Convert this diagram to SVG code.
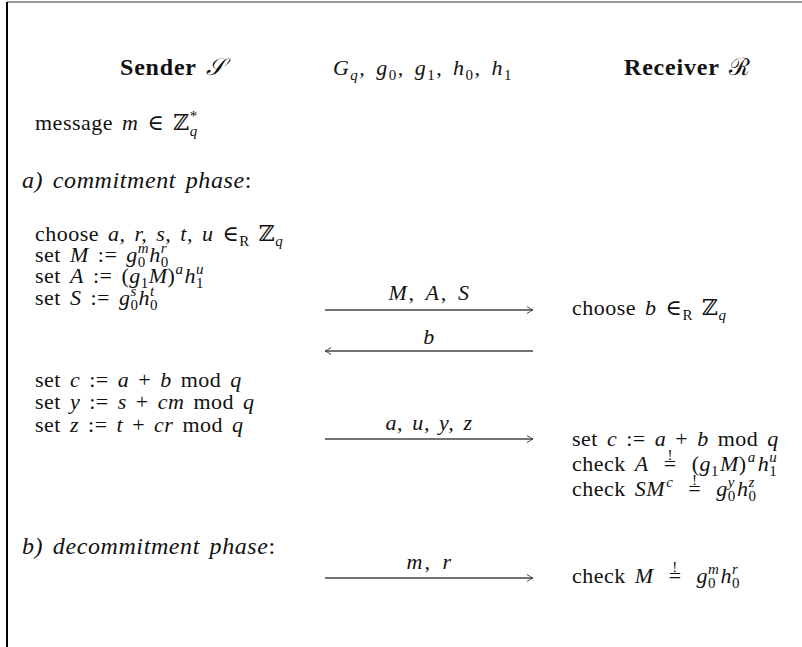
<svg xmlns="http://www.w3.org/2000/svg" width="802" height="647" viewBox="0 0 802 647">
<defs>
<style>
text{font-family:"Liberation Serif","DejaVu Serif",serif;font-size:22px;fill:#111;letter-spacing:0.5px;word-spacing:3px}
.i{font-style:italic}
.n{font-style:normal}
.s{font-size:15px}
.b{font-weight:bold;font-size:24px;letter-spacing:0.8px}
.ph{font-style:italic;font-size:24px;letter-spacing:0.6px}
.arr{stroke:#444;stroke-width:1.3;fill:none}
</style>
<marker id="ah" viewBox="-8 -5 10 10" refX="0" refY="0" markerWidth="10" markerHeight="10" markerUnits="userSpaceOnUse" orient="auto">
<path d="M-6,-3.5 Q-2,-0.8 0,0 Q-2,0.8 -6,3.5" stroke="#444" stroke-width="1" fill="none"/>
</marker>
</defs>
<g id="frame">
<line x1="7" y1="2" x2="802" y2="2" stroke="#777" stroke-width="1.5"/>
<line x1="7" y1="2" x2="7" y2="647" stroke="#000" stroke-width="2"/>
</g>
<g id="header">
<text x="120" y="75" class="b">Sender <tspan font-weight="normal" class="i">𝒮</tspan></text>
<text x="333" y="75" class="i" textLength="179" lengthAdjust="spacing">G<tspan class="s" dy="5">q</tspan><tspan dy="-5">, g</tspan><tspan class="s n" dy="5">0</tspan><tspan dy="-5">, g</tspan><tspan class="s n" dy="5">1</tspan><tspan dy="-5">, h</tspan><tspan class="s n" dy="5">0</tspan><tspan dy="-5">, h</tspan><tspan class="s n" dy="5">1</tspan></text>
<text x="624" y="75" class="b">Receiver <tspan font-weight="normal">ℛ</tspan></text>
</g>
<g id="sender">
<text x="35" y="130">message <tspan class="i">m</tspan> ∈ ℤ<tspan class="s i" dy="6">q</tspan><tspan class="s" dx="-8" dy="-15">*</tspan></text>
<text x="22" y="188" class="ph">a) commitment phase<tspan class="n">:</tspan></text>
<text x="35" y="241">choose <tspan class="i">a, r, s, t, u</tspan> ∈<tspan class="s" dy="5">R</tspan><tspan dy="-5"> ℤ</tspan><tspan class="s i" dy="5">q</tspan></text>
<text x="35" y="262">set <tspan class="i">M</tspan> := <tspan class="i">g</tspan><tspan class="s" dy="5">0</tspan><tspan class="s i" dx="-8" dy="-14">m</tspan><tspan class="i" dy="9">h</tspan><tspan class="s" dy="5">0</tspan><tspan class="s i" dx="-8" dy="-14">r</tspan></text>
<text x="35" y="283">set <tspan class="i">A</tspan> := (<tspan class="i">g</tspan><tspan class="s" dy="5">1</tspan><tspan class="i" dy="-5">M</tspan>)<tspan class="s i" dy="-9">a</tspan><tspan class="i" dx="1" dy="9">h</tspan><tspan class="s" dy="5">1</tspan><tspan class="s i" dx="-8" dy="-14">u</tspan></text>
<text x="35" y="305">set <tspan class="i">S</tspan> := <tspan class="i">g</tspan><tspan class="s" dy="5">0</tspan><tspan class="s i" dx="-8" dy="-14">s</tspan><tspan class="i" dx="1.7" dy="9">h</tspan><tspan class="s" dy="5">0</tspan><tspan class="s i" dx="-8" dy="-14">t</tspan></text>
<text x="35" y="387">set <tspan class="i">c</tspan> := <tspan class="i">a</tspan> + <tspan class="i">b</tspan> mod <tspan class="i">q</tspan></text>
<text x="35" y="409">set <tspan class="i">y</tspan> := <tspan class="i">s</tspan> + <tspan class="i">cm</tspan> mod <tspan class="i">q</tspan></text>
<text x="35" y="432">set <tspan class="i">z</tspan> := <tspan class="i">t</tspan> + <tspan class="i">cr</tspan> mod <tspan class="i">q</tspan></text>
<text x="22" y="554" class="ph">b) decommitment phase<tspan class="n">:</tspan></text>
</g>
<g id="receiver">
<text x="572" y="315">choose <tspan class="i">b</tspan> ∈<tspan class="s" dy="5">R</tspan><tspan dy="-5"> ℤ</tspan><tspan class="s i" dy="5">q</tspan></text>
<text x="572" y="446">set <tspan class="i">c</tspan> := <tspan class="i">a</tspan> + <tspan class="i">b</tspan> mod <tspan class="i">q</tspan></text>
<text x="572" y="471">check <tspan class="i">A</tspan><tspan dx="6"> =</tspan><tspan class="s" dx="-9.2" dy="-11">!</tspan><tspan dx="9.7" dy="11"> (</tspan><tspan class="i">g</tspan><tspan class="s" dy="5">1</tspan><tspan class="i" dx="1" dy="-5">M</tspan>)<tspan class="s i" dx="1" dy="-9">a</tspan><tspan class="i" dx="2" dy="9">h</tspan><tspan class="s" dy="5">1</tspan><tspan class="s i" dx="-8" dy="-14">u</tspan></text>
<text x="572" y="496">check <tspan class="i">SM</tspan><tspan class="s i" dx="1" dy="-9">c</tspan><tspan dx="6" dy="9"> =</tspan><tspan class="s" dx="-9.2" dy="-11">!</tspan><tspan dx="9.7" dy="11"> </tspan><tspan class="i">g</tspan><tspan class="s" dy="5">0</tspan><tspan class="s i" dx="-8" dy="-14">y</tspan><tspan class="i" dx="2" dy="9">h</tspan><tspan class="s" dy="5">0</tspan><tspan class="s i" dx="-8" dy="-14">z</tspan></text>
<text x="572" y="583">check <tspan class="i">M</tspan><tspan dx="6"> =</tspan><tspan class="s" dx="-9.2" dy="-11">!</tspan><tspan dx="9.7" dy="11"> </tspan><tspan class="i">g</tspan><tspan class="s" dy="5">0</tspan><tspan class="s i" dx="-8" dy="-14">m</tspan><tspan class="i" dx="1" dy="9">h</tspan><tspan class="s" dy="5">0</tspan><tspan class="s i" dx="-8" dy="-14">r</tspan></text>
</g>
<g id="connectors">
<line class="arr" x1="325" y1="310" x2="533" y2="310" marker-end="url(#ah)"/>
<line class="arr" x1="533" y1="351" x2="325" y2="351" marker-end="url(#ah)"/>
<line class="arr" x1="325" y1="439" x2="533" y2="439" marker-end="url(#ah)"/>
<line class="arr" x1="325" y1="578" x2="533" y2="578" marker-end="url(#ah)"/>
<text x="429" y="300" text-anchor="middle" class="i" textLength="81" lengthAdjust="spacing">M, A, S</text>
<text x="429" y="344" text-anchor="middle" class="i">b</text>
<text x="429" y="430" text-anchor="middle" class="i" textLength="87" lengthAdjust="spacing">a, u, y, z</text>
<text x="429" y="569" text-anchor="middle" class="i" textLength="45" lengthAdjust="spacing">m, r</text>
</g>
</svg>
